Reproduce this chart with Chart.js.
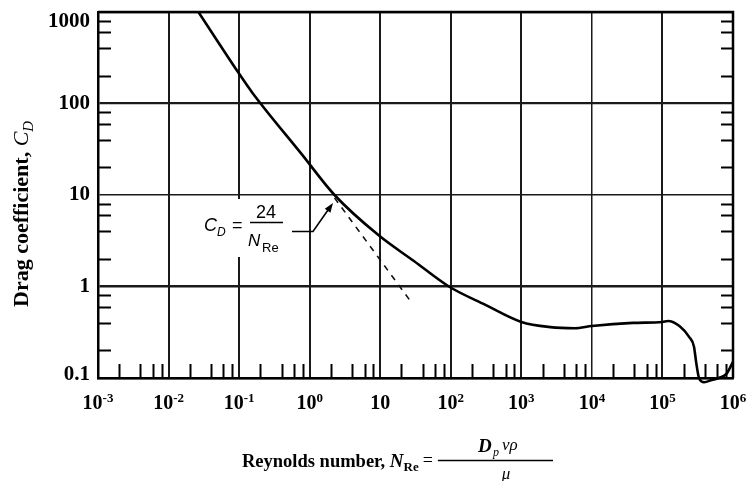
<!DOCTYPE html>
<html><head><meta charset="utf-8">
<script src="https://cdn.jsdelivr.net/npm/chart.js@4.4.1/dist/chart.umd.min.js"></script>
<style>html,body{margin:0;padding:0;background:#fff}#wrap{width:750px;height:481px}</style>
</head><body><div id="wrap"><canvas id="c" width="750" height="481"></canvas></div>
<script>
// ---- data ----
const reynolds = [0.0265, 0.097, 0.152, 0.77, 2.25, 9.6, 30, 94, 310, 1000, 2570, 5700, 10000, 38000, 100000, 120000, 174000, 240000, 280000, 300000, 330000, 390000, 500000, 630000, 800000, 1000000];
const dragCoef = [1000, 219, 133, 28, 10, 3.6, 1.9, 1.0, 0.63, 0.41, 0.36, 0.35, 0.37, 0.40, 0.41, 0.42, 0.37, 0.28, 0.22, 0.15, 0.10, 0.09, 0.095, 0.10, 0.11, 0.15];
const stokesRe = [2.25, 27.3];
const stokesCd = [9.3, 0.68];
const xTickValues = [1e-3, 1e-2, 1e-1, 1, 10, 1e2, 1e3, 1e4, 1e5, 1e6];
const xTickBase = ['10','10','10','10','10','10','10','10','10','10'];
const xTickExp = ['-3','-2','-1','0','','2','3','4','5','6'];
const yTickValues = [0.1, 1, 10, 100, 1000];
const yTickLabels = ['0.1','1','10','100','1000'];
const minorMultipliers = [2, 4, 6, 8];

const SERIF = '"Liberation Serif", "DejaVu Serif", serif';
const SANS = '"Liberation Sans", "DejaVu Sans", sans-serif';

const bgPlugin = {
  id: 'bg',
  beforeDraw(chart) {
    const c = chart.ctx;
    c.save(); c.fillStyle = '#fff'; c.fillRect(0, 0, chart.width, chart.height); c.restore();
  },
  beforeDatasetsDraw(chart) {
    const c = chart.ctx;
    c.save(); c.fillStyle = '#fff'; c.fillRect(198, 199, 103, 58); c.restore();
  }
};

const decorPlugin = {
  id: 'decor',
  afterDraw(chart) {
    const c = chart.ctx;
    const xs = chart.scales.x, ys = chart.scales.y;
    const a = chart.chartArea;
    c.save();
    c.strokeStyle = '#000';
    c.lineWidth = 2.5;
    c.beginPath();
    c.moveTo(a.left, a.top); c.lineTo(a.right, a.top); c.lineTo(a.right, a.bottom);
    c.stroke();
    // minor ticks
    c.lineWidth = 2;
    c.beginPath();
    for (let k = 0; k < xTickValues.length - 1; k++) {
      for (const m of minorMultipliers) {
        const px = Math.round(xs.getPixelForValue(xTickValues[k] * m)) + 0.5;
        c.moveTo(px, a.bottom); c.lineTo(px, a.bottom - 14);
      }
    }
    for (let k = 0; k < yTickValues.length - 1; k++) {
      for (const m of minorMultipliers) {
        const py = Math.round(ys.getPixelForValue(yTickValues[k] * m)) + 0.5;
        c.moveTo(a.left, py); c.lineTo(a.left + 13, py);
        c.moveTo(a.right, py); c.lineTo(a.right - 12, py);
      }
    }
    c.stroke();

    // y tick labels
    c.fillStyle = '#000';
    c.font = 'bold 21px ' + SERIF;
    c.textAlign = 'right';
    c.textBaseline = 'middle';
    yTickValues.forEach((v, i) => {
      let py = ys.getPixelForValue(v);
      py = Math.min(Math.max(py, a.top + 10), a.bottom - 3);
      c.fillText(yTickLabels[i], 90, py);
    });

    // x tick labels with superscripts
    c.textAlign = 'left';
    c.textBaseline = 'alphabetic';
    const baseFont = 'bold 20px ' + SERIF, supFont = 'bold 13px ' + SERIF;
    xTickValues.forEach((v, i) => {
      c.font = baseFont;
      const wb = c.measureText(xTickBase[i]).width;
      c.font = supFont;
      const we = xTickExp[i] ? c.measureText(xTickExp[i]).width : 0;
      const px = xs.getPixelForValue(v);
      const x0 = px - (wb + we) / 2;
      c.font = baseFont;
      c.fillText(xTickBase[i], x0, 409);
      if (xTickExp[i]) { c.font = supFont; c.fillText(xTickExp[i], x0 + wb, 402); }
    });

    // y axis title (rotated)
    c.save();
    c.translate(28, 307);
    c.rotate(-Math.PI / 2);
    c.font = 'bold 22px ' + SERIF;
    const t1 = 'Drag coefficient, ';
    c.fillText(t1, 0, 0);
    let w = c.measureText(t1).width;
    c.font = 'italic 22px ' + SERIF;
    c.fillText('C', w, 0);
    w += c.measureText('C').width;
    c.font = 'italic 15px ' + SERIF;
    c.fillText('D', w, 5);
    c.restore();

    // x axis title
    const yb = 467;
    let x = 242;
    c.font = 'bold 18.5px ' + SERIF;
    c.fillText('Reynolds number, ', x, yb);
    x += c.measureText('Reynolds number, ').width;
    c.font = 'italic bold 19px ' + SERIF;
    c.fillText('N', x, yb); x += c.measureText('N').width;
    c.font = 'bold 13px ' + SERIF;
    c.fillText('Re', x, yb + 4); x += c.measureText('Re').width + 4;
    c.font = '18px ' + SERIF;
    c.fillText('=', x, yb - 1); x += c.measureText('=').width + 5;
    const barL = x, barR = 553;
    c.lineWidth = 1.6;
    c.beginPath(); c.moveTo(barL, 460.5); c.lineTo(barR, 460.5); c.stroke();
    c.font = 'italic bold 19px ' + SERIF; c.fillText('D', 478, 452);
    c.font = 'italic 12px ' + SERIF; c.fillText('p', 493, 456);
    c.font = 'italic 17px ' + SERIF; c.fillText('v\u03C1', 502, 450);
    c.textAlign = 'center';
    c.fillText('\u03BC', 506, 479);

    // annotation C_D = 24 / N_Re
    c.textAlign = 'left';
    c.font = 'italic 18px ' + SANS;
    c.fillText('C', 204, 231);
    c.font = 'italic 12px ' + SANS;
    c.fillText('D', 217, 236);
    c.font = '18px ' + SANS;
    c.fillText('=', 232, 231);
    c.textAlign = 'center';
    c.fillText('24', 266, 218);
    c.lineWidth = 1.5;
    c.beginPath(); c.moveTo(250, 222.5); c.lineTo(283, 222.5); c.stroke();
    c.textAlign = 'left';
    c.font = 'italic 17px ' + SANS;
    c.fillText('N', 248, 246);
    c.font = '13px ' + SANS;
    c.fillText('Re', 262, 252);
    // leader with arrow
    c.lineWidth = 1.6;
    c.beginPath(); c.moveTo(292, 231.5); c.lineTo(313, 231.5); c.lineTo(328, 210); c.stroke();
    const tipX = 333, tipY = 203;
    const ang = Math.atan2(tipY - 231.5, tipX - 313);
    c.beginPath();
    c.moveTo(tipX, tipY);
    c.lineTo(tipX - 10 * Math.cos(ang - 0.35), tipY - 10 * Math.sin(ang - 0.35));
    c.lineTo(tipX - 10 * Math.cos(ang + 0.35), tipY - 10 * Math.sin(ang + 0.35));
    c.closePath(); c.fill();
    c.restore();
  }
};

const curve = reynolds.map((r, i) => ({ x: r, y: dragCoef[i] }));
const stokes = stokesRe.map((r, i) => ({ x: r, y: stokesCd[i] }));

new Chart(document.getElementById('c').getContext('2d'), {
  type: 'line',
  data: {
    datasets: [
      { data: curve, borderColor: '#000', borderWidth: 2.6, pointRadius: 0, cubicInterpolationMode: 'monotone', fill: false, clip: { left: 0, top: 0, right: 2, bottom: 10 } },
      { data: stokes, borderColor: '#111', borderWidth: 1.6, borderDash: [6, 6], pointRadius: 0, fill: false }
    ]
  },
  options: {
    responsive: false, animation: false, devicePixelRatio: 1,
    layout: { padding: { left: 0, right: 17, top: 12, bottom: 0 } },
    plugins: { legend: { display: false }, tooltip: { enabled: false } },
    scales: {
      x: {
        type: 'logarithmic', min: 1e-3, max: 1e6,
        afterBuildTicks: s => { s.ticks = xTickValues.map(v => ({ value: v })); },
        ticks: { display: false },
        grid: { color: '#1a1a1a', lineWidth: ctx => (ctx.tick && ctx.tick.value === 1e4 ? 1.5 : 2), drawTicks: false },
        border: { display: true, color: '#000', width: 2.5 },
        afterFit: s => { s.height = 103; }
      },
      y: {
        type: 'logarithmic', min: 0.1, max: 1000,
        afterBuildTicks: s => { s.ticks = yTickValues.map(v => ({ value: v })); },
        ticks: { display: false },
        grid: { color: '#1a1a1a', lineWidth: ctx => (ctx.tick && ctx.tick.value === 10 ? 1.5 : (ctx.tick && ctx.tick.value === 1 ? 2.6 : 2.2)), drawTicks: false },
        border: { display: true, color: '#000', width: 2.5 },
        afterFit: s => { s.width = 98; }
      }
    }
  },
  plugins: [bgPlugin, decorPlugin]
});
</script>
</body></html>
